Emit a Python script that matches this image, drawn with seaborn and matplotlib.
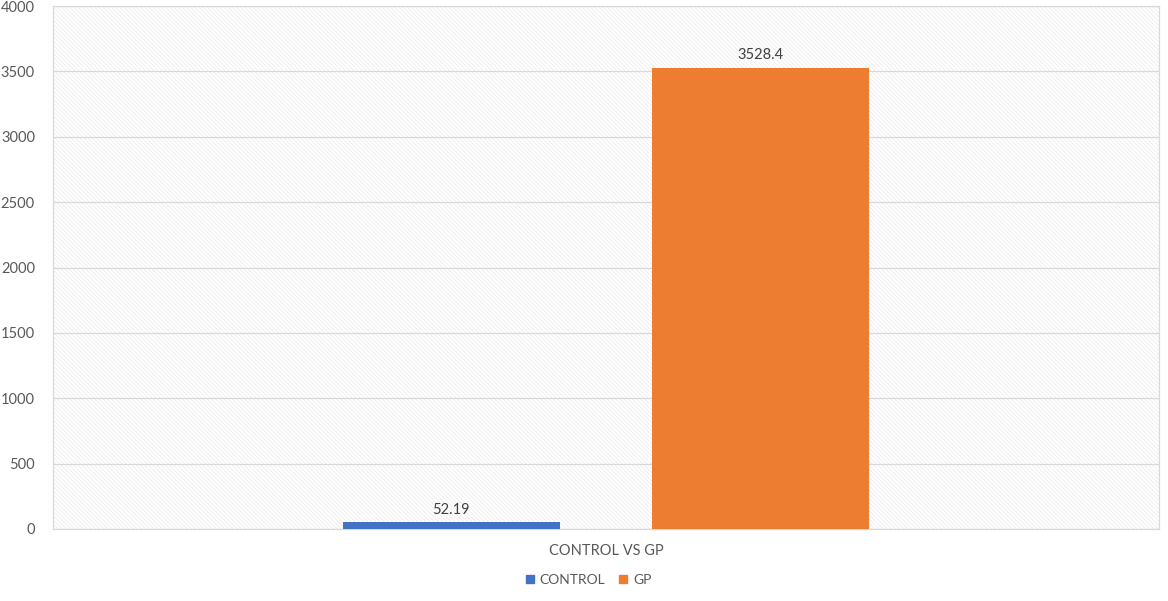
import matplotlib
matplotlib.use("Agg")
import matplotlib.pyplot as plt
import seaborn as sns
import pandas as pd
from matplotlib.patches import Rectangle
from matplotlib.lines import Line2D

group = ["CONTROL VS GP"]
series = ["CONTROL", "GP"]
values = [52.19, 3528.4]
value_labels = ["52.19", "3528.4"]
yticks = [0, 500, 1000, 1500, 2000, 2500, 3000, 3500, 4000]
colors = ["#4472C4", "#ED7D31"]

df = pd.DataFrame({"group": group * len(series), "series": series, "value": values})

sns.set_theme(style="white")
plt.rcParams["font.family"] = ["Lato", "DejaVu Sans"]
plt.rcParams["hatch.linewidth"] = 0.5

text_color = "#595959"
grid_color = "#D9D9D9"
fs = 10.5

fig = plt.figure(figsize=(11.68, 6.01), dpi=100)
ax = fig.add_axes([53 / 1168, 1 - 529 / 601, (1159 - 53) / 1168, (529 - 6) / 601])

# hatched plot-area background
bg = Rectangle((0, 0), 1, 1, transform=ax.transAxes, facecolor="white",
               edgecolor="#E9E9E9", hatch="\\" * 8, linewidth=0, zorder=0)
ax.add_patch(bg)
ax.set_facecolor("white")

sns.barplot(data=df, x="group", y="value", hue="series", palette=colors,
            width=1.12, gap=0.30, ax=ax, legend=False, zorder=3,
            saturation=1, linewidth=0)

ax.set_xlim(-1, 1)
ax.set_ylim(0, 4000)
ax.set_yticks(yticks)
ax.set_yticklabels([str(t) for t in yticks], fontsize=fs, color=text_color)
ax.yaxis.grid(True, color=grid_color, linewidth=0.9, zorder=1)
ax.set_axisbelow(False)
for gl in ax.get_ygridlines():
    gl.set_zorder(1)
ax.tick_params(axis="y", length=0, pad=13)
ax.tick_params(axis="x", length=0, pad=11)
ax.set_xticks([0])
ax.set_xticklabels(group, fontsize=fs, color=text_color)
ax.set_xlabel("")
ax.set_ylabel("")
for s in ax.spines.values():
    s.set_color(grid_color)
    s.set_linewidth(0.9)

for cont, lab in zip(ax.containers, value_labels):
    ax.bar_label(cont, labels=[lab], padding=4, fontsize=fs, color="#404040", zorder=4)

handles = [Line2D([0], [0], marker="s", linestyle="", markersize=6,
                  markerfacecolor=c, markeredgecolor=c) for c in colors]
fig.legend(handles, series, loc="center", bbox_to_anchor=(588 / 1168, 1 - 580 / 601),
           ncol=2, frameon=False, fontsize=10, labelcolor=text_color,
           handletextpad=0.3, columnspacing=0.9, handlelength=0.8)

fig.savefig("out.png", dpi=100)
